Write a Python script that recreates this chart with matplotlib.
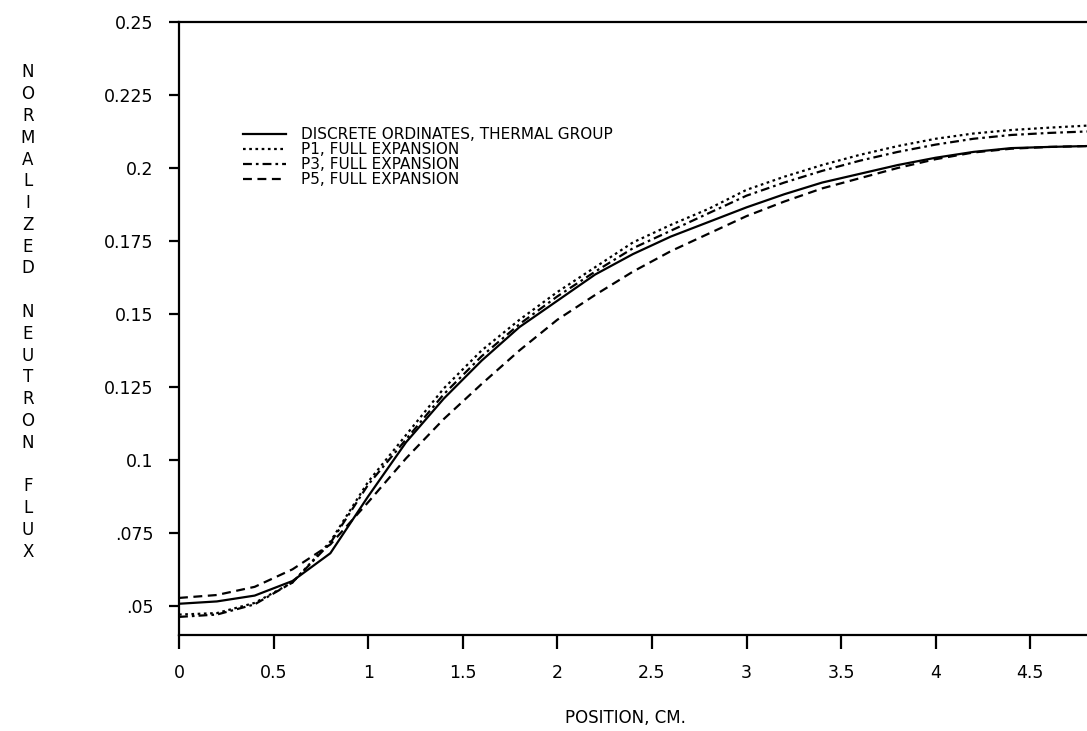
import numpy as np
import matplotlib
matplotlib.use("Agg")
import matplotlib.pyplot as plt

# datos
pos = [0.0, 0.2, 0.4, 0.6, 0.8, 1.0, 1.2, 1.4, 1.6, 1.8, 2.0, 2.2, 2.4,
       2.6, 2.8, 3.0, 3.2, 3.4, 3.6, 3.8, 4.0, 4.2, 4.4, 4.6, 4.8]

sn = [0.0507, 0.0515, 0.0535, 0.0585, 0.0680, 0.0875, 0.1060, 0.1210, 0.1340,
      0.1455, 0.1545, 0.1635, 0.1705, 0.1765, 0.1815, 0.1865, 0.1910, 0.1950,
      0.1980, 0.2010, 0.2035, 0.2055, 0.2068, 0.2072, 0.2075]

p1 = [0.0470, 0.0475, 0.0510, 0.0580, 0.0720, 0.0925, 0.1085, 0.1245, 0.1375,
      0.1480, 0.1575, 0.1660, 0.1745, 0.1805, 0.1860, 0.1925, 0.1970, 0.2010,
      0.2045, 0.2075, 0.2100, 0.2118, 0.2130, 0.2138, 0.2145]

p3 = [0.0462, 0.0470, 0.0505, 0.0580, 0.0715, 0.0915, 0.1070, 0.1225, 0.1355,
      0.1465, 0.1560, 0.1645, 0.1725, 0.1785, 0.1845, 0.1905, 0.1950, 0.1990,
      0.2025, 0.2055, 0.2080, 0.2100, 0.2113, 0.2120, 0.2125]

p5 = [0.0527, 0.0537, 0.0565, 0.0625, 0.0710, 0.0855, 0.1005, 0.1140, 0.1260,
      0.1375, 0.1480, 0.1565, 0.1645, 0.1715, 0.1775, 0.1835, 0.1885, 0.1930,
      0.1965, 0.2000, 0.2030, 0.2053, 0.2066, 0.2072, 0.2075]

etiquetas = ["DISCRETE ORDINATES, THERMAL GROUP", "P1, FULL EXPANSION",
             "P3, FULL EXPANSION", "P5, FULL EXPANSION"]

xticks = [0, 0.5, 1, 1.5, 2, 2.5, 3, 3.5, 4, 4.5]
xtick_lbl = ["0", "0.5", "1", "1.5", "2", "2.5", "3", "3.5", "4", "4.5"]
yticks = [0.05, 0.075, 0.1, 0.125, 0.15, 0.175, 0.2, 0.225, 0.25]
ytick_lbl = [".05", ".075", "0.1", "0.125", "0.15", "0.175", "0.2", "0.225", "0.25"]

plt.rcParams["font.family"] = "DejaVu Sans"

fig = plt.figure(figsize=(10.87, 7.31), dpi=100)
ax = fig.add_axes([179 / 1087, 96 / 731, 908 / 1087, 613 / 731])

#graficar
ax.plot(pos, sn, color="black", lw=1.6, ls="-", label=etiquetas[0])
ax.plot(pos, p1, color="black", lw=1.6, ls=(0, (1.2, 1.6)), label=etiquetas[1])
ax.plot(pos, p3, color="black", lw=1.6, ls=(0, (4, 1.8, 1.2, 1.8)), label=etiquetas[2])
ax.plot(pos, p5, color="black", lw=1.6, ls=(0, (4, 2.5)), label=etiquetas[3])

ax.set_xlim(0, 4.8)
ax.set_ylim(0.04, 0.25)
ax.set_xticks(xticks)
ax.set_xticklabels(xtick_lbl)
ax.set_yticks(yticks)
ax.set_yticklabels(ytick_lbl)

ax.spines["right"].set_visible(False)
for s in ["left", "bottom", "top"]:
    ax.spines[s].set_linewidth(1.6)

ax.tick_params(axis="x", direction="out", length=10, width=1.6, pad=11, labelsize=12.5)
ax.tick_params(axis="y", direction="out", length=7.5, width=1.6, pad=11, labelsize=12.5)

ax.set_xlabel("POSITION, CM.", fontsize=12)
ax.xaxis.set_label_coords(0.492, -0.135)
ax.xaxis.label.set_va("center")

ylab = "\n".join("NORMALIZED NEUTRON FLUX")
fig.text(28 / 1087, 1 - 312 / 731, ylab, fontsize=12, ha="center", va="center",
         linespacing=1.27)

ax.legend(loc="upper left", bbox_to_anchor=(243 / 1087, 1 - 127 / 731),
          bbox_transform=fig.transFigure, frameon=False, fontsize=11,
          handlelength=2.8, handletextpad=1.0, labelspacing=0.0,
          borderpad=0, borderaxespad=0)

fig.savefig("out.png", dpi=100)
